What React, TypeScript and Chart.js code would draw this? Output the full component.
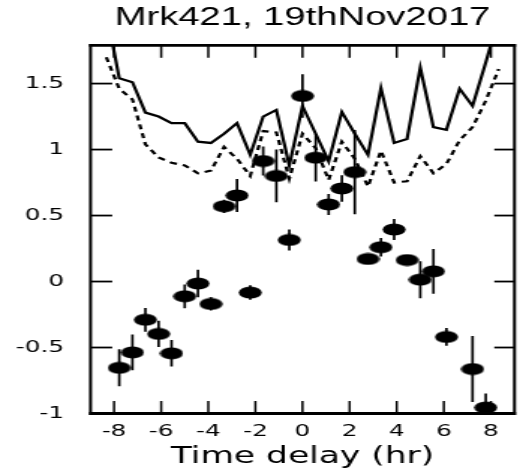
import React, { useEffect, useRef } from "react";
import { Chart, registerables } from "chart.js";

Chart.register(...registerables);

// ---- text ----
const chartTitle = "Mrk421, 19thNov2017";
const xAxisTitle = "Time delay (hr)";
const xTickValues = [-8, -6, -4, -2, 0, 2, 4, 6, 8];
const xTickLabels = ["-8", "-6", "-4", "-2", "0", "2", "4", "6", "8"];
const yTickValues = [-1, -0.5, 0, 0.5, 1, 1.5];
const yTickLabels = ["-1", "-0.5", "0", "0.5", "1", "1.5"];

// ---- DCF points ----
const dcfLag = [
  -7.78, -7.22, -6.67, -6.11, -5.56, -5.0, -4.44, -3.89, -3.33, -2.78, -2.22, -1.67, -1.11, -0.56,
  0.0, 0.56, 1.11, 1.67, 2.22, 2.78, 3.33, 3.89, 4.44, 5.0, 5.56, 6.11, 7.22, 7.78,
];
const dcfValue = [
  -0.654, -0.537, -0.29, -0.397, -0.544, -0.112, -0.015, -0.17, 0.57, 0.652, -0.084, 0.913, 0.8, 0.315,
  1.406, 0.938, 0.584, 0.705, 0.829, 0.171, 0.26, 0.394, 0.163, 0.014, 0.077, -0.42, -0.663, -0.955,
];
const dcfError = [
  0.14, 0.135, 0.09, 0.1, 0.1, 0.09, 0.105, 0.05, 0.05, 0.125, 0.055, 0.11, 0.2, 0.08,
  0.165, 0.18, 0.08, 0.1, 0.32, 0.03, 0.07, 0.08, 0.03, 0.14, 0.17, 0.067, 0.25, 0.106,
];

// ---- significance curves ----
const sigLag = [
  -8.33, -7.78, -7.22, -6.67, -6.11, -5.56, -5.0, -4.44, -3.89, -3.33, -2.78, -2.22, -1.67, -1.11, -0.56,
  0.0, 0.56, 1.11, 1.67, 2.22, 2.78, 3.33, 3.89, 4.44, 5.0, 5.56, 6.11, 6.67, 7.22, 7.78, 8.33,
];
const sigSolid = [
  2.05, 1.54, 1.51, 1.28, 1.25, 1.2, 1.2, 1.06, 1.05, 1.12, 1.2, 0.96, 1.25, 1.3, 0.88,
  1.33, 1.12, 0.91, 1.285, 1.12, 0.96, 1.465, 1.05, 1.08, 1.62, 1.17, 1.15, 1.46, 1.33, 1.66, 2.0,
];
const sigDashed = [
  1.7, 1.46, 1.38, 1.04, 0.94, 0.9, 0.88, 0.82, 0.84, 1.02, 0.93, 0.8, 1.14, 1.13, 0.78,
  1.12, 1.01, 0.77, 1.06, 0.93, 0.72, 0.99, 0.75, 0.76, 0.95, 0.82, 0.89, 1.07, 1.17, 1.37, 1.61,
];

const X_MIN = -9;
const X_MAX = 9;
const Y_MIN = -1;
const Y_MAX = 1.79;

// the original figure is horizontally stretched; draw narrower and stretch the canvas
const CSS_W = 529;
const CSS_H = 468;
const STRETCH = 1.5;
const BUF_W = Math.round(CSS_W / STRETCH);

const errorBarPlugin = {
  id: "errorBars",
  beforeDatasetsDraw(chart: any) {
    const { ctx, chartArea: a, scales } = chart;
    const xs = scales.x;
    const ys = scales.y;
    ctx.save();
    ctx.beginPath();
    ctx.rect(a.left, a.top, a.right - a.left, a.bottom - a.top);
    ctx.clip();
    ctx.strokeStyle = "#000";
    ctx.lineWidth = 1.7;
    dcfLag.forEach((lag, i) => {
      const px = xs.getPixelForValue(lag);
      ctx.beginPath();
      ctx.moveTo(px, ys.getPixelForValue(dcfValue[i] - dcfError[i]));
      ctx.lineTo(px, ys.getPixelForValue(dcfValue[i] + dcfError[i]));
      ctx.stroke();
    });
    ctx.restore();
  },
};

const framePlugin = {
  id: "frameTicks",
  afterDatasetsDraw(chart: any) {
    const { ctx, chartArea: a, scales } = chart;
    const xs = scales.x;
    const ys = scales.y;
    const seg = (x1: number, y1: number, x2: number, y2: number) => {
      ctx.beginPath();
      ctx.moveTo(x1, y1);
      ctx.lineTo(x2, y2);
      ctx.stroke();
    };
    ctx.save();
    ctx.strokeStyle = "#000";
    ctx.lineCap = "butt";
    ctx.lineWidth = 1.5;
    xs.ticks.forEach((t: any) => {
      const px = xs.getPixelForValue(t.value);
      seg(px, a.bottom, px, a.bottom - 12.5);
      seg(px, a.top, px, a.top + 12.5);
    });
    ctx.lineWidth = 1.8;
    ys.ticks.forEach((t: any) => {
      const py = ys.getPixelForValue(t.value);
      seg(a.left, py, a.left + 14.5, py);
      seg(a.right, py, a.right - 13.5, py);
    });
    ctx.lineWidth = 2;
    seg(a.left, a.top - 1.4, a.left, a.bottom + 1.4);
    seg(a.right, a.top - 1.4, a.right, a.bottom + 1.4);
    ctx.lineWidth = 2.8;
    seg(a.left - 1, a.top, a.right + 1, a.top);
    seg(a.left - 1, a.bottom, a.right + 1, a.bottom);
    ctx.restore();
  },
};

function makeEllipse(): HTMLCanvasElement {
  const c = document.createElement("canvas");
  c.width = 16;
  c.height = 13;
  const g = c.getContext("2d")!;
  g.fillStyle = "#000";
  g.beginPath();
  g.ellipse(8, 6.5, 7.7, 6.1, 0, 0, Math.PI * 2);
  g.fill();
  return c;
}

export default function App() {
  const canvasRef = useRef<HTMLCanvasElement | null>(null);

  useEffect(() => {
    const canvas = canvasRef.current;
    if (!canvas) return;
    const tickFont = { family: "'DejaVu Sans', sans-serif", size: 16.5, weight: "normal" as const };
    const chart = new Chart(canvas, {
      type: "scatter",
      data: {
        datasets: [
          {
            label: "DCF",
            data: dcfLag.map((x, i) => ({ x, y: dcfValue[i] })),
            pointStyle: makeEllipse(),
            pointRadius: 6,
            backgroundColor: "#000",
            borderColor: "#000",
            showLine: false,
          },
          {
            label: "solid",
            data: sigLag.map((x, i) => ({ x, y: sigSolid[i] })),
            showLine: true,
            borderColor: "#000",
            borderWidth: 2.2,
            pointRadius: 0,
            tension: 0,
            clip: 0,
          },
          {
            label: "dashed",
            data: sigLag.map((x, i) => ({ x, y: sigDashed[i] })),
            showLine: true,
            borderColor: "#000",
            borderWidth: 2.2,
            borderDash: [5, 4],
            pointRadius: 0,
            tension: 0,
            clip: 0,
          },
        ],
      },
      options: {
        animation: false,
        responsive: false,
        devicePixelRatio: 1,
        events: [],
        layout: { padding: { left: 0, right: 9.7, top: 0, bottom: 0 } },
        plugins: {
          legend: { display: false },
          tooltip: { enabled: false },
          title: {
            display: true,
            text: chartTitle,
            fullSize: false,
            color: "#000",
            font: { family: "'Liberation Sans', Arial, sans-serif", size: 25.5, weight: "normal" },
            padding: { top: 2.2, bottom: 12.5 },
          },
        },
        scales: {
          x: {
            type: "linear",
            min: X_MIN,
            max: X_MAX,
            afterBuildTicks: (s: any) => {
              s.ticks = xTickValues.map((value) => ({ value }));
            },
            afterFit: (s: any) => {
              s.height = 54.5;
            },
            grid: { display: false, drawTicks: false },
            border: { display: false },
            ticks: {
              autoSkip: false,
              maxRotation: 0,
              color: "#000",
              font: tickFont,
              padding: 8,
              callback: (_v: any, i: number) => xTickLabels[i],
            },
            title: {
              display: true,
              text: xAxisTitle,
              color: "#000",
              font: { family: "'DejaVu Sans', sans-serif", size: 23, weight: "normal" },
              padding: { top: 0, bottom: -3 },
            },
          },
          y: {
            type: "linear",
            min: Y_MIN,
            max: Y_MAX,
            afterBuildTicks: (s: any) => {
              s.ticks = yTickValues.map((value) => ({ value }));
            },
            afterFit: (s: any) => {
              s.width = 60.4;
            },
            grid: { display: false, drawTicks: false },
            border: { display: false },
            ticks: {
              autoSkip: false,
              color: "#000",
              font: tickFont,
              padding: 17.7,
              callback: (_v: any, i: number) => yTickLabels[i],
            },
          },
        },
      },
      plugins: [errorBarPlugin, framePlugin],
    } as any);
    return () => chart.destroy();
  }, []);

  return (
    <canvas
      ref={canvasRef}
      width={BUF_W}
      height={CSS_H}
      style={{ position: "absolute", left: 0, top: 0, width: `${CSS_W}px`, height: `${CSS_H}px` }}
    />
  );
}
